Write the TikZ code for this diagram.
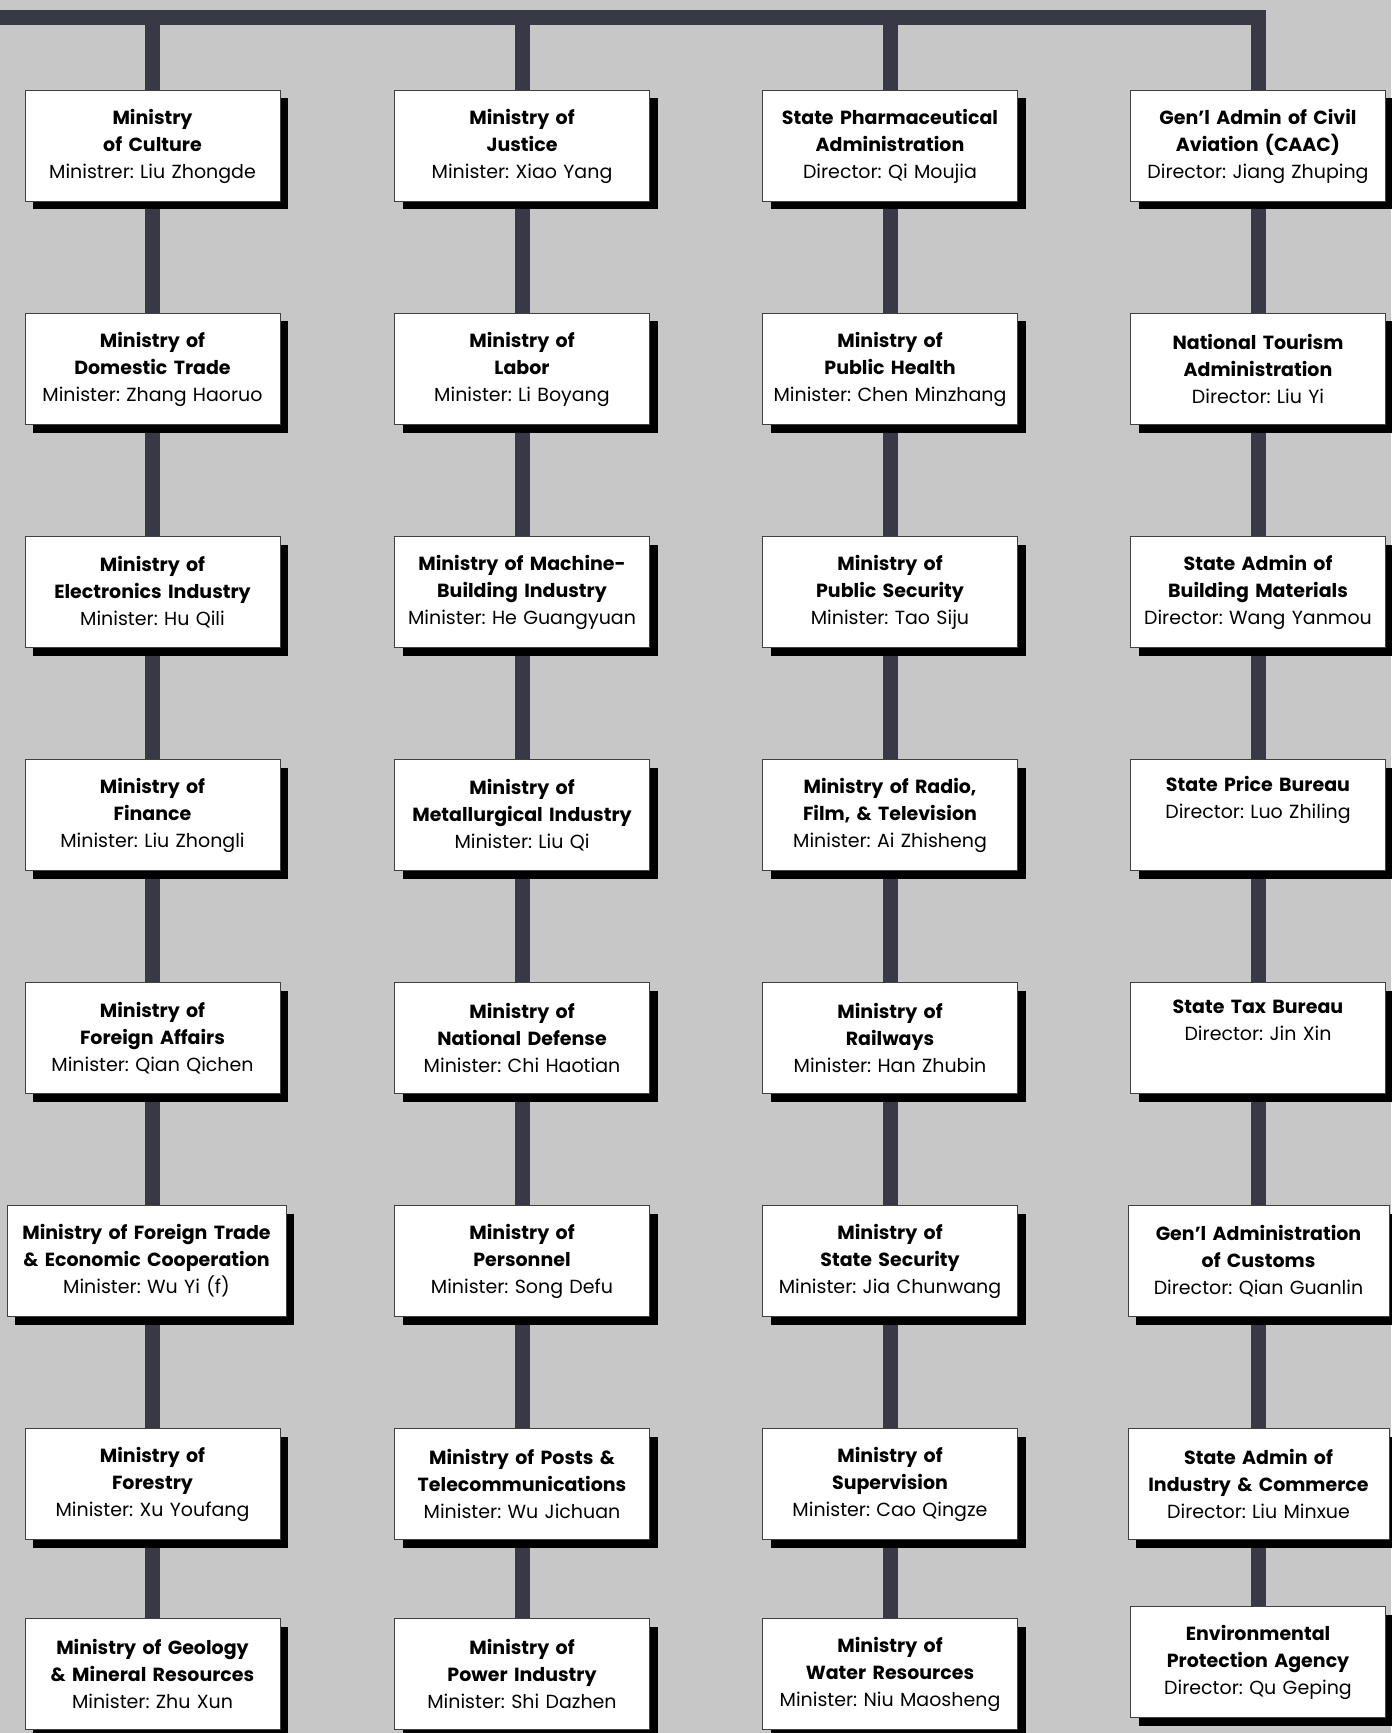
\documentclass[tikz,border=0pt]{standalone}
\usepackage{fontspec}
\setmainfont{Poppins}
\usepackage{xcolor}
\usepackage{tikz}
\usetikzlibrary{shadows,backgrounds}
\frenchspacing

\definecolor{paper}{HTML}{C7C7C7}
\definecolor{trunkcol}{HTML}{383945}

\begin{document}
\begin{tikzpicture}[x=0.5pt, y=-0.5pt,
  post/.style={draw=black!75, line width=0.5pt, fill=white,
    text width=120pt, inner xsep=3.75pt, align=center,
    minimum height=55.5pt,
    font=\fontsize{9.5}{13.5}\selectfont,
    drop shadow={shadow xshift=4pt, shadow yshift=-4pt,
      fill=black, opacity=1}},
  trunk/.style={draw=trunkcol, line width=7.5pt, line join=miter}]
\useasboundingbox (0, 0) rectangle (1391, 1733);

% first column
\node[post] (culture) at (152.5, 146)
  {\textbf{Ministry\\of Culture}\\Ministrer: Liu Zhongde};
\node[post] (domtrade) at (152.5, 369)
  {\textbf{Ministry of\\Domestic Trade}\\Minister: Zhang Haoruo};
\node[post] (electronics) at (152.5, 592)
  {\textbf{Ministry of\\Electronics Industry}\\Minister: Hu Qili};
\node[post] (finance) at (152.5, 815)
  {\textbf{Ministry of\\Finance}\\Minister: Liu Zhongli};
\node[post] (foraffairs) at (152.5, 1038)
  {\textbf{Ministry of\\Foreign Affairs}\\Minister: Qian Qichen};
\node[post, text width=132pt] (fortrade) at (146.5, 1261)
  {\textbf{Ministry of Foreign Trade\\\& Economic Cooperation}\\Minister: Wu Yi (f)};
\node[post] (forestry) at (152.5, 1484)
  {\textbf{Ministry of\\Forestry}\\Minister: Xu Youfang};
\node[post] (geology) at (152.5, 1674)
  {\textbf{Ministry of Geology\\\& Mineral Resources}\\Minister: Zhu Xun};

% second column
\node[post] (justice) at (522, 146)
  {\textbf{Ministry of\\Justice}\\Minister: Xiao Yang};
\node[post] (labor) at (522, 369)
  {\textbf{Ministry of\\Labor}\\Minister: Li Boyang};
\node[post] (machine) at (522, 592)
  {\textbf{Ministry of Machine-\\Building Industry}\\Minister: He Guangyuan};
\node[post] (metal) at (522, 815)
  {\textbf{Ministry of\\Metallurgical Industry}\\Minister: Liu Qi};
\node[post] (defense) at (522, 1038)
  {\textbf{Ministry of\\National Defense}\\Minister: Chi Haotian};
\node[post] (personnel) at (522, 1261)
  {\textbf{Ministry of\\Personnel}\\Minister: Song Defu};
\node[post] (posts) at (522, 1484)
  {\textbf{Ministry of Posts \&\\Telecommunications}\\Minister: Wu Jichuan};
\node[post] (power) at (522, 1674)
  {\textbf{Ministry of\\Power Industry}\\Minister: Shi Dazhen};

% third column
\node[post] (pharma) at (890, 146)
  {\textbf{State Pharmaceutical\\Administration}\\Director: Qi Moujia};
\node[post] (health) at (890, 369)
  {\textbf{Ministry of\\Public Health}\\Minister: Chen Minzhang};
\node[post] (pubsec) at (890, 592)
  {\textbf{Ministry of\\Public Security}\\Minister: Tao Siju};
\node[post] (radio) at (890, 815)
  {\textbf{Ministry of Radio,\\Film, \& Television}\\Minister: Ai Zhisheng};
\node[post] (railways) at (890, 1038)
  {\textbf{Ministry of\\Railways}\\Minister: Han Zhubin};
\node[post] (statesec) at (890, 1261)
  {\textbf{Ministry of\\State Security}\\Minister: Jia Chunwang};
\node[post] (supervision) at (890, 1484)
  {\textbf{Ministry of\\Supervision}\\Minister: Cao Qingze};
\node[post] (water) at (890, 1674)
  {\textbf{Ministry of\\Water Resources}\\Minister: Niu Maosheng};

% fourth column
\node[post] (caac) at (1258, 146)
  {\textbf{Gen’l Admin of Civil\\Aviation (CAAC)}\\Director: Jiang Zhuping};
\node[post] (tourism) at (1258, 369)
  {\textbf{National Tourism\\Administration}\\Director: Liu Yi};
\node[post] (building) at (1258, 592)
  {\textbf{State Admin of\\Building Materials}\\Director: Wang Yanmou};
\node[post] (price) at (1258, 815)
  {\textbf{State Price Bureau}\\Director: Luo Zhiling\\\strut};
\node[post] (tax) at (1258, 1038)
  {\textbf{State Tax Bureau}\\Director: Jin Xin\\\strut};
\node[post, text width=123pt] (customs) at (1258.5, 1261)
  {\textbf{Gen’l Administration\\of Customs}\\Director: Qian Guanlin};
\node[post, text width=123pt] (commerce) at (1258.5, 1484)
  {\textbf{State Admin of\\Industry \& Commerce}\\Director: Liu Minxue};
\node[post] (envprot) at (1258, 1662)
  {\textbf{Environmental\\Protection Agency}\\Director: Qu Geping};

\coordinate (barstart) at (0, 18);
\coordinate (barend) at (caac |- barstart);

\begin{pgfonlayer}{background}
\fill[paper] (0, 0) rectangle (1391, 1733);
\draw[trunk] (barstart) -- (barend) -- (envprot);
\draw[trunk] (culture |- barstart) -- (geology);
\draw[trunk] (justice |- barstart) -- (power);
\draw[trunk] (pharma |- barstart) -- (water);
\end{pgfonlayer}
\end{tikzpicture}
\end{document}
